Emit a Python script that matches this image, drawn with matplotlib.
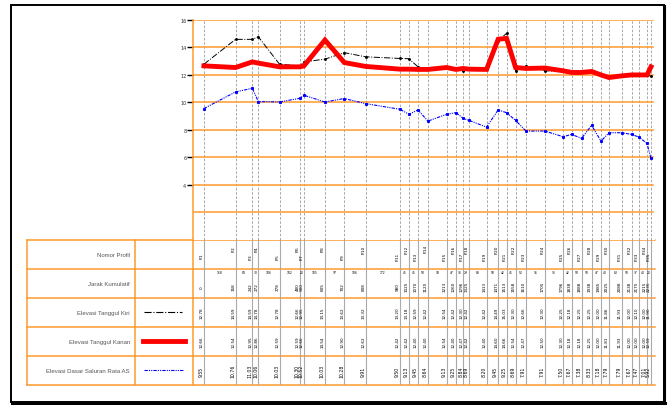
import numpy as np
import matplotlib.pyplot as plt
from matplotlib.patches import Rectangle

# station data (cumulative distance in m)
profil = ['P.%d' % i for i in range(1, 36)]
jarak = [0, 158, 242, 272, 378, 480, 500, 605, 702, 808, 980, 1025, 1070, 1120,
         1213, 1260, 1296, 1325, 1413, 1471, 1513, 1558, 1610, 1705, 1796, 1838,
         1888, 1938, 1985, 2025, 2088, 2138, 2175, 2215, 2235]
tanggul_kiri = [12.78, 14.59, 14.59, 14.78, 12.78, 12.66, 12.95, 13.15, 13.62, 13.32,
                13.20, 13.18, 12.59, 12.42, 12.54, 12.42, 12.30, 12.42, 12.42, 14.49,
                15.03, 12.30, 12.66, 12.30, 12.25, 12.18, 12.25, 12.25, 12.00, 11.86,
                11.93, 12.00, 12.10, 12.00, 11.90]
tanggul_kanan = [12.66, 12.54, 12.95, 12.86, 12.59, 12.59, 12.66, 14.54, 12.90, 12.62,
                 12.42, 12.42, 12.40, 12.40, 12.54, 12.40, 12.47, 12.42, 12.40, 14.60,
                 14.66, 12.54, 12.47, 12.50, 12.30, 12.18, 12.18, 12.25, 12.00, 11.81,
                 11.93, 12.00, 12.00, 12.00, 12.59]
dasar = [9.55, 10.76, 11.03, 10.06, 10.03, 10.30, 10.52, 10.03, 10.28, 9.91,
         9.50, 9.13, 9.45, 8.64, 9.13, 9.25, 8.84, 8.69, 8.20, 9.45,
         9.25, 8.69, 7.91, 7.91, 7.50, 7.67, 7.38, 8.33, 7.18, 7.79,
         7.79, 7.67, 7.47, 7.01, 5.92]
yticks = [4, 6, 8, 10, 12, 14, 16]
row_labels = ['Nomor Profil', 'Jarak Kumulatif', 'Elevasi Tanggul Kiri',
              'Elevasi Tanggul Kanan', 'Elevasi Dasar Saluran Rata AS']

orange = '#FF9A2E'
W, H = 670, 406
fig = plt.figure(figsize=(6.7, 4.06), dpi=100)

def box(x0, y0, x1, y1):
    return [x0 / W, 1 - y1 / H, (x1 - x0) / W, (y1 - y0) / H]

# background / frame axes in pixel coords
fr = fig.add_axes([0, 0, 1, 1])
fr.set_xlim(0, W)
fr.set_ylim(H, 0)
fr.axis('off')
fr.add_patch(Rectangle((11, 6), 653, 397, fill=False, ec='black', lw=1.4))
fr.plot([664, 664], [7, 404], color='black', lw=2.2)
fr.plot([12, 665], [403.5, 403.5], color='black', lw=2.2)

# profile plot
ax = fig.add_axes(box(193.3, 21, 655, 240.7))
ax.set_xlim(-53, 2255)
ax.set_ylim(0, 16)
for d in jarak:
    ax.axvline(d, color='#999999', ls=(0, (3, 2)), lw=0.6, zorder=1)
for v in [2, 4, 6, 8, 10, 12, 14, 16]:
    ax.axhline(v, color=orange, lw=1.1, zorder=1, xmax=0.996)
ax.plot(jarak, tanggul_kiri, color='black', ls='-.', lw=0.7, marker='o', ms=1.1, zorder=3)
ax.plot(jarak, tanggul_kanan, color='red', lw=3.5, zorder=4, solid_joinstyle='miter')
ax.plot(jarak, dasar, color='blue', ls=(0, (3, 1, 1, 1, 1, 1)), lw=0.8,
        marker='s', ms=1.2, zorder=3)
for s in ['top', 'right', 'bottom']:
    ax.spines[s].set_visible(False)
ax.spines['left'].set_color(orange)
ax.spines['left'].set_linewidth(1.1)
ax.set_xticks([])
ax.set_yticks(yticks)
ax.set_yticklabels([str(t) for t in yticks], fontsize=3.5, color='#333333')
ax.tick_params(axis='y', length=4, width=1, color='black', pad=1)

# table grid
tx0, tx1, ty0, ty1 = 26.7, 655, 240.7, 386
rows = np.linspace(ty0, ty1, 6)
for y in rows:
    fr.plot([tx0, tx1], [y, y], color=orange, lw=1.1)
for x in [tx0, 134.5, 193.3]:
    fr.plot([x, x], [ty0, ty1], color=orange, lw=1.1)
for lab, y0, y1 in zip(row_labels, rows[:-1], rows[1:]):
    fr.text(130, (y0 + y1) / 2, lab, ha='right', va='center', fontsize=4.3,
            color='#555555', family='Liberation Sans')
ymid = (rows[:-1] + rows[1:]) / 2
fr.plot([144, 182], [ymid[2]] * 2, color='black', ls='-.', lw=0.8)
fr.plot([143, 185], [ymid[3]] * 2, color='red', lw=3.5)
fr.plot([144, 183], [ymid[4]] * 2, color='blue', ls=(0, (3, 1, 1, 1, 1, 1)), lw=0.8)

# table values, sharing the plot's x scale
tb = fig.add_axes(box(193.3, ty0, 655, ty1), sharex=ax)
tb.set_ylim(5, 0)
tb.axis('off')
for d in jarak:
    tb.axvline(d, color='#AAAAAA', lw=0.8, zorder=1)
for i, d in enumerate(jarak):
    tb.text(d, 0.3 if i % 2 else 0.55, profil[i], rotation=90, fontsize=3,
            ha='right', va='center')
    tb.text(d, 1.6, '%d' % d, rotation=90, fontsize=3, ha='right', va='center')
    tb.text(d, 2.5, '%.2f' % tanggul_kiri[i], rotation=90, fontsize=3, ha='right', va='center')
    tb.text(d, 3.5, '%.2f' % tanggul_kanan[i], rotation=90, fontsize=3, ha='right', va='center')
    tb.text(d, 4.5, '%.2f' % dasar[i], rotation=90, fontsize=3.3, ha='right', va='center')
    if i > 0:
        tb.text((d + jarak[i - 1]) / 2, 1.12, '%d' % (d - jarak[i - 1]), fontsize=2.2,
                ha='center', va='center')

fig.savefig('out.png', dpi=100)
